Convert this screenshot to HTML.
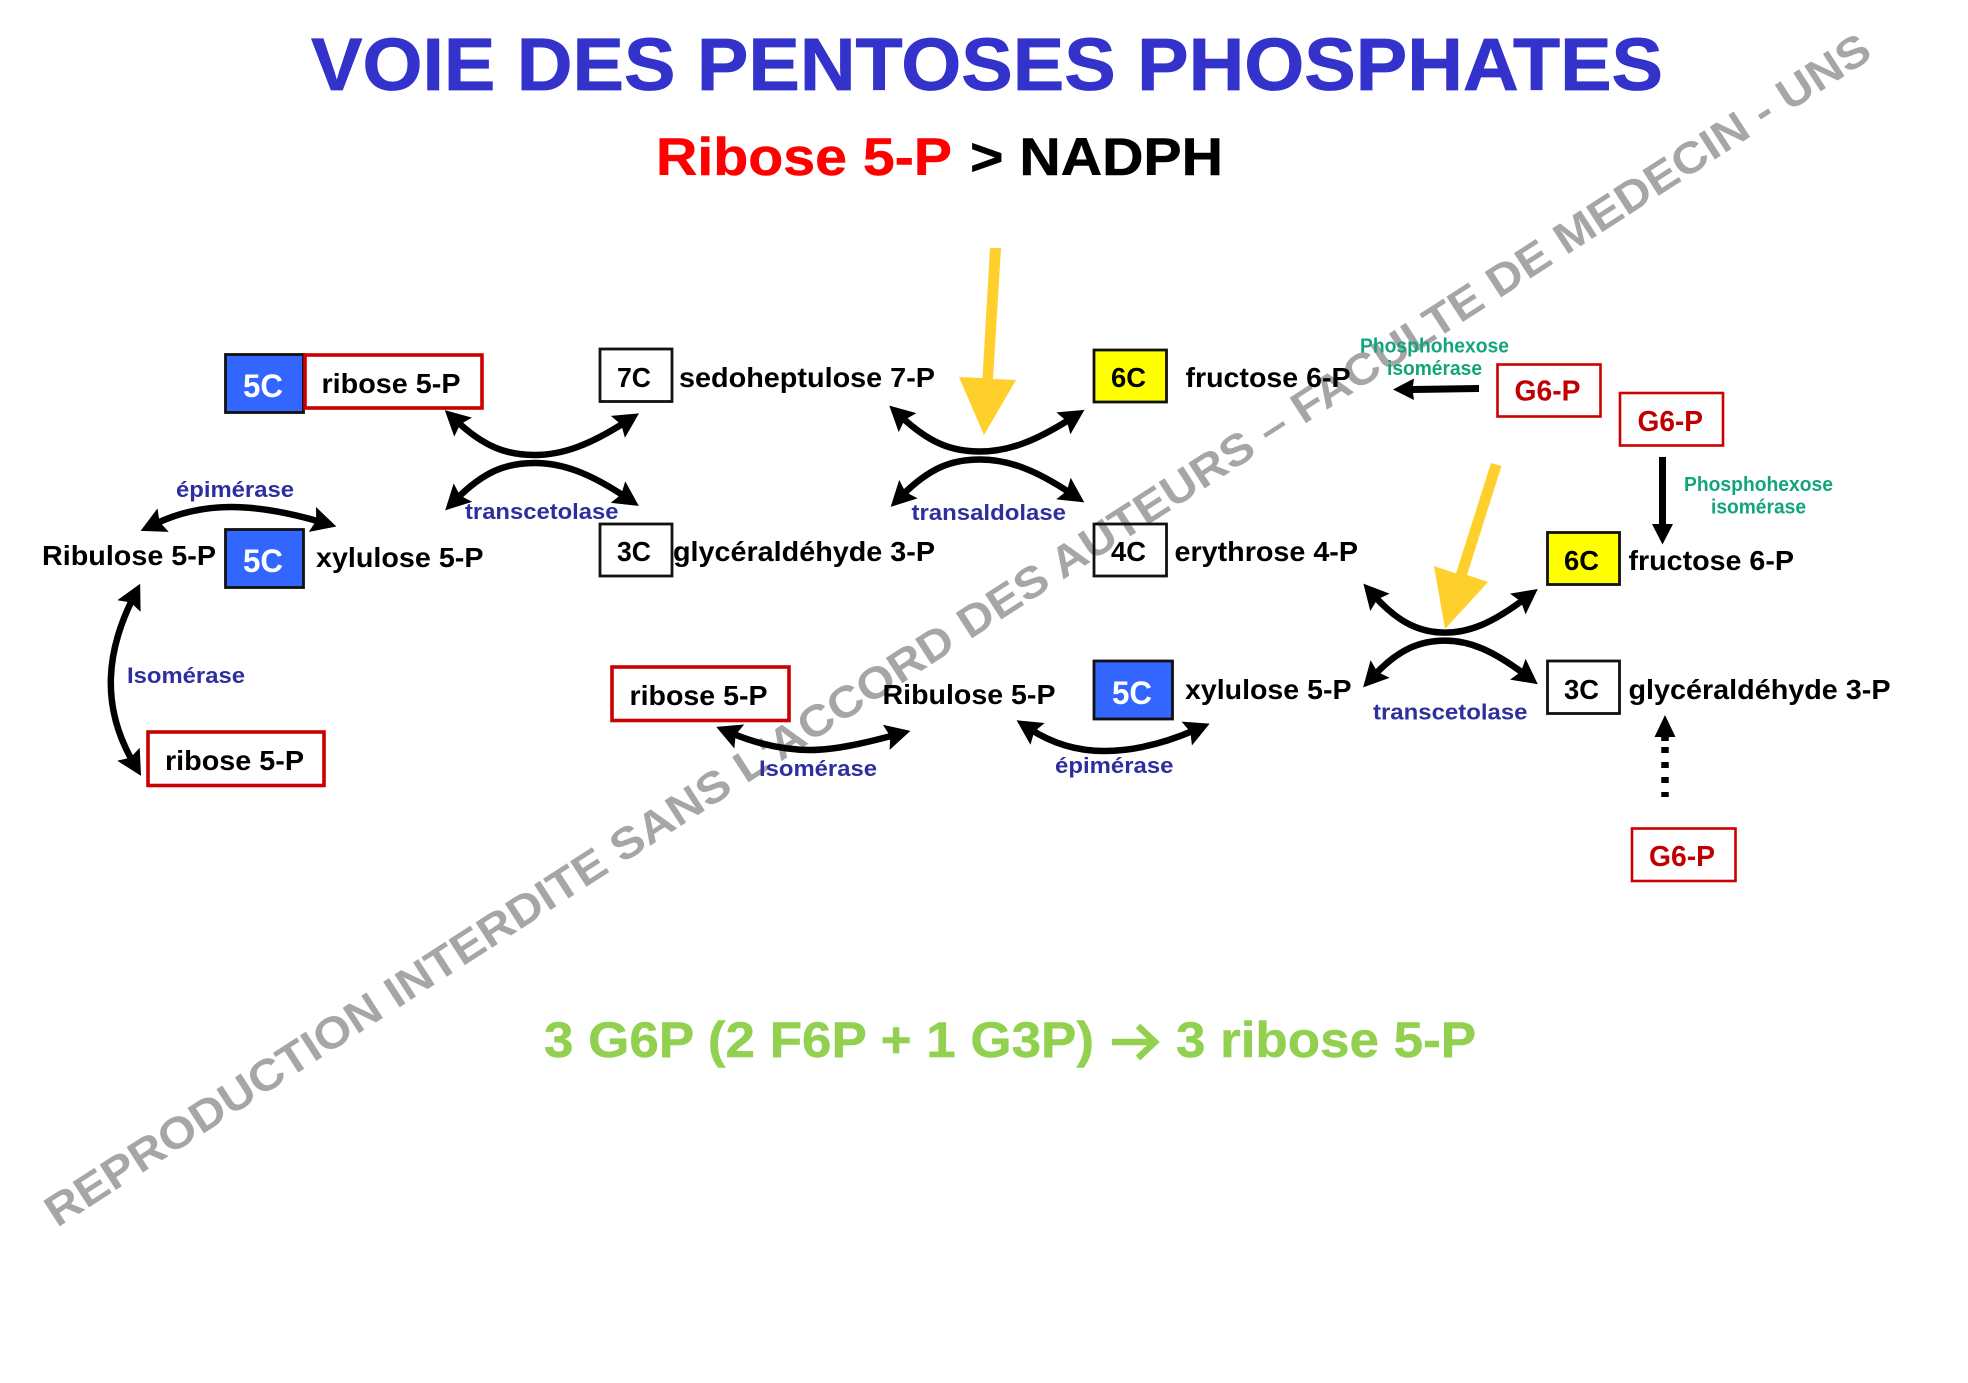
<!DOCTYPE html>
<html lang="fr"><head><meta charset="utf-8"><title>Voie des pentoses phosphates</title>
<style>
html,body{margin:0;padding:0;background:#fff}
svg{display:block}
text{font-family:"Liberation Sans",Arial,sans-serif;font-weight:bold}
.l{font-size:27.5px;fill:#000}
.w{font-size:32px;fill:#fff}
.e{font-size:22.5px;fill:#2e2e9e}
.g{font-size:20.5px;fill:#12a57b}
.r{font-size:29px;fill:#c00000}
.c{fill:none;stroke:#000;stroke-width:6.5;marker-start:url(#h);marker-end:url(#h)}
.bx{fill:none;stroke:#111;stroke-width:2.8}
.rb{fill:none;stroke:#cc0000;stroke-width:3.6}
.rg{fill:none;stroke:#cc0000;stroke-width:2.6}
</style></head><body>
<svg width="1968" height="1383" viewBox="0 0 1968 1383" xmlns="http://www.w3.org/2000/svg">
<defs>
<marker id="h" viewBox="-9 -13 25 26" refX="0" refY="0" markerWidth="25" markerHeight="26" markerUnits="userSpaceOnUse" orient="auto-start-reverse"><path d="M16,0 L-9,-13 L-5,0 L-9,13 Z" fill="#000"/></marker>
</defs>
<rect width="1968" height="1383" fill="#fff"/>

<text transform="translate(57,1228) rotate(-32.8)" font-size="44" fill="#a6a6a6" textLength="2162" lengthAdjust="spacingAndGlyphs">REPRODUCTION INTERDITE SANS L'ACCORD DES AUTEURS – FACULTE DE MEDECIN - UNS</text>

<text x="311" y="90" font-size="74" fill="#3333cc" stroke="#3333cc" stroke-width="0.8" textLength="1352" lengthAdjust="spacingAndGlyphs">VOIE DES PENTOSES PHOSPHATES</text>
<text x="656" y="175" font-size="53" fill="#ff0000" stroke="#ff0000" stroke-width="0.5" textLength="296" lengthAdjust="spacingAndGlyphs">Ribose 5-P</text>
<text x="970" y="175" font-size="53" fill="#000" stroke="#000" stroke-width="0.5" textLength="253" lengthAdjust="spacingAndGlyphs">&gt; NADPH</text>

<rect x="225.500" y="354.500" width="78" height="58" fill="#3366ff" stroke="#111" stroke-width="2.8"/>
<rect x="305" y="355" width="177" height="53" class="rb"/>
<rect x="225.500" y="529.500" width="78" height="58" fill="#3366ff" stroke="#111" stroke-width="2.8"/>
<rect x="148" y="732" width="176" height="53.500" class="rb"/>
<rect x="600" y="349" width="72" height="52.500" class="bx"/>
<rect x="600" y="524" width="72" height="52" class="bx"/>
<rect x="1094" y="350" width="72.500" height="52" fill="#ffff00" stroke="#111" stroke-width="2.8"/>
<rect x="1094" y="524" width="72.500" height="52" class="bx"/>
<rect x="612" y="667" width="177" height="53.500" class="rb"/>
<rect x="1094" y="661" width="78.500" height="58" fill="#3366ff" stroke="#111" stroke-width="2.8"/>
<rect x="1547.500" y="532.500" width="72" height="52" fill="#ffff00" stroke="#111" stroke-width="2.8"/>
<rect x="1547.500" y="661" width="72" height="52.500" class="bx"/>
<rect x="1497.500" y="364.500" width="103" height="52" class="rg"/>
<rect x="1620" y="393" width="103" height="52.500" class="rg"/>
<rect x="1632" y="828.500" width="103.500" height="52.500" class="rg"/>

<text x="243" y="397" class="w" textLength="40" lengthAdjust="spacingAndGlyphs">5C</text>
<text x="243" y="572" class="w" textLength="40" lengthAdjust="spacingAndGlyphs">5C</text>
<text x="1112" y="704" class="w" textLength="40" lengthAdjust="spacingAndGlyphs">5C</text>
<text x="617" y="387" class="l" textLength="34" lengthAdjust="spacingAndGlyphs">7C</text>
<text x="617" y="561" class="l" textLength="34" lengthAdjust="spacingAndGlyphs">3C</text>
<text x="1111" y="387" class="l" textLength="35" lengthAdjust="spacingAndGlyphs">6C</text>
<text x="1111" y="561" class="l" textLength="35" lengthAdjust="spacingAndGlyphs">4C</text>
<text x="1564" y="570" class="l" textLength="35" lengthAdjust="spacingAndGlyphs">6C</text>
<text x="1564" y="699" class="l" textLength="35" lengthAdjust="spacingAndGlyphs">3C</text>

<text x="321.500" y="393" class="l" textLength="139" lengthAdjust="spacingAndGlyphs">ribose 5-P</text>
<text x="42" y="565" class="l" textLength="174" lengthAdjust="spacingAndGlyphs">Ribulose 5-P</text>
<text x="316" y="567" class="l" textLength="167.500" lengthAdjust="spacingAndGlyphs">xylulose 5-P</text>
<text x="165" y="770" class="l" textLength="139" lengthAdjust="spacingAndGlyphs">ribose 5-P</text>
<text x="679" y="387" class="l" textLength="256" lengthAdjust="spacingAndGlyphs">sedoheptulose 7-P</text>
<text x="673" y="561" class="l" textLength="262" lengthAdjust="spacingAndGlyphs">glycéraldéhyde 3-P</text>
<text x="1185.500" y="387" class="l" textLength="165" lengthAdjust="spacingAndGlyphs">fructose 6-P</text>
<text x="1174.500" y="561" class="l" textLength="183.500" lengthAdjust="spacingAndGlyphs">erythrose 4-P</text>
<text x="629.500" y="705" class="l" textLength="138" lengthAdjust="spacingAndGlyphs">ribose 5-P</text>
<text x="882.500" y="704" class="l" textLength="173" lengthAdjust="spacingAndGlyphs">Ribulose 5-P</text>
<text x="1185" y="699" class="l" textLength="166.500" lengthAdjust="spacingAndGlyphs">xylulose 5-P</text>
<text x="1628.500" y="570" class="l" textLength="165.500" lengthAdjust="spacingAndGlyphs">fructose 6-P</text>
<text x="1628.500" y="699" class="l" textLength="262" lengthAdjust="spacingAndGlyphs">glycéraldéhyde 3-P</text>

<text x="1514.500" y="400.500" class="r" textLength="66" lengthAdjust="spacingAndGlyphs">G6-P</text>
<text x="1637.500" y="431" class="r" textLength="65.500" lengthAdjust="spacingAndGlyphs">G6-P</text>
<text x="1649" y="866" class="r" textLength="66" lengthAdjust="spacingAndGlyphs">G6-P</text>

<text x="176" y="497" class="e" textLength="118" lengthAdjust="spacingAndGlyphs">épimérase</text>
<text x="465" y="519" class="e" textLength="153.500" lengthAdjust="spacingAndGlyphs">transcetolase</text>
<text x="127" y="683" class="e" textLength="118" lengthAdjust="spacingAndGlyphs">Isomérase</text>
<text x="911.500" y="520" class="e" textLength="154.500" lengthAdjust="spacingAndGlyphs">transaldolase</text>
<text x="759" y="776" class="e" textLength="118" lengthAdjust="spacingAndGlyphs">Isomérase</text>
<text x="1055" y="773" class="e" textLength="118.500" lengthAdjust="spacingAndGlyphs">épimérase</text>
<text x="1373" y="719.500" class="e" textLength="154.500" lengthAdjust="spacingAndGlyphs">transcetolase</text>

<text x="1360" y="352.500" class="g" textLength="149" lengthAdjust="spacingAndGlyphs">Phosphohexose</text>
<text x="1387" y="375" class="g" textLength="95" lengthAdjust="spacingAndGlyphs">isomérase</text>
<text x="1684" y="491" class="g" textLength="149" lengthAdjust="spacingAndGlyphs">Phosphohexose</text>
<text x="1711" y="513.500" class="g" textLength="95" lengthAdjust="spacingAndGlyphs">isomérase</text>

<text x="544" y="1057" font-size="50" fill="#92d050" stroke="#92d050" stroke-width="0.5" textLength="550" lengthAdjust="spacingAndGlyphs">3 G6P (2 F6P + 1 G3P)</text>
<path d="M1112,1042 H1152 M1138,1026 L1155,1042 L1138,1058" fill="none" stroke="#92d050" stroke-width="6.500"/>
<text x="1176" y="1057" font-size="50" fill="#92d050" stroke="#92d050" stroke-width="0.5" textLength="300" lengthAdjust="spacingAndGlyphs">3 ribose 5-P</text>

<g transform="translate(534.500,455)">
<path class="c" d="M-78,-34 C-50,-8 -28,0 0,0 C28,0 55,-10 91,-33"/>
<path class="c" d="M-78,44 C-50,16 -28,8 0,8 C28,8 55,18 91,42"/>
</g>
<g transform="translate(980,451.500)">
<path class="c" d="M-79,-35 C-50,-8 -28,0 0,0 C28,0 55,-10 91,-33"/>
<path class="c" d="M-78,44 C-50,16 -28,8 0,8 C28,8 55,18 91,42"/>
</g>
<g transform="translate(1445,632.600)">
<path class="c" d="M-71,-37 C-46,-9 -24,0 0,0 C25,0 48,-10 80,-34"/>
<path class="c" d="M-71,43 C-46,16 -24,8 0,8 C25,8 48,18 80,42"/>
</g>
<path class="c" d="M155,524 C180,512 205,507 231,507 C258,507 290,513 321,522"/>
<path class="c" d="M133,598 C107,650 100,705 133,762"/>
<path class="c" d="M731,733 C760,745 785,750 810,750 C835,750 865,743 895,735"/>
<path class="c" d="M1030,729 C1050,742 1075,751 1104,751 C1135,751 1165,743 1195,730"/>

<path d="M1479,385 L1413,386 L1414,378.500 L1393,389.500 L1414,400 L1413,393 L1479,392 Z" fill="#000"/>
<path d="M1659,457 H1666 V524 H1673 L1662.500,544.500 L1652,524 H1659 Z" fill="#000"/>
<path d="M1665,715 L1675.500,737 H1654.500 Z" fill="#000"/>
<path d="M1665,736 V741" fill="none" stroke="#000" stroke-width="7.500"/>
<path d="M1665,736 V797" fill="none" stroke="#000" stroke-width="7.500" stroke-dasharray="6 9" stroke-dashoffset="-11"/>

<path d="M990,248 L1001,248 L993,379 L1016,380 L984,435 L959,377 L982.500,378 Z" fill="#ffcf2b"/>
<path d="M1491,463 L1501.500,466 L1467,575 L1488,582 L1445,629 L1434,566 L1456,573.500 Z" fill="#ffcf2b"/>
</svg>
</body></html>
